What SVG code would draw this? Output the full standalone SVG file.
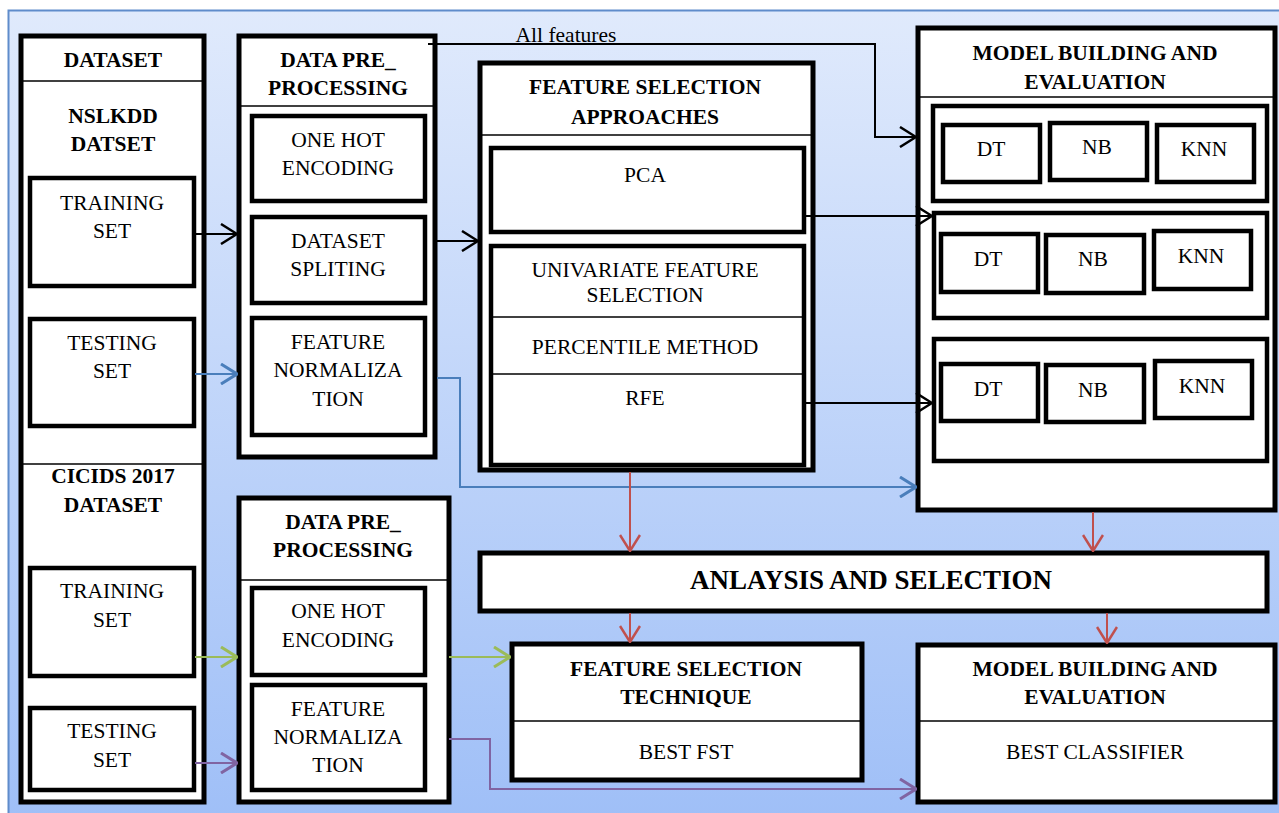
<svg xmlns="http://www.w3.org/2000/svg" width="1279" height="813" viewBox="0 0 1279 813">
<defs>
<linearGradient id="bg" x1="0" y1="0" x2="0" y2="1">
<stop offset="0" stop-color="#e0eafc"/>
<stop offset="1" stop-color="#9fbff7"/>
</linearGradient>
<marker id="ak" viewBox="0 0 18 22" refX="17" refY="11" markerWidth="18" markerHeight="22" markerUnits="userSpaceOnUse" orient="auto"><path d="M1,1 L17,11 L1,21" fill="none" stroke="#000" stroke-width="2.5"/></marker>
<marker id="ab" viewBox="0 0 18 22" refX="17" refY="11" markerWidth="18" markerHeight="22" markerUnits="userSpaceOnUse" orient="auto"><path d="M1,1 L17,11 L1,21" fill="none" stroke="#4a7ebb" stroke-width="3"/></marker>
<marker id="ag" viewBox="0 0 18 22" refX="17" refY="11" markerWidth="18" markerHeight="22" markerUnits="userSpaceOnUse" orient="auto"><path d="M1,1 L17,11 L1,21" fill="none" stroke="#9bbb59" stroke-width="3"/></marker>
<marker id="ap" viewBox="0 0 18 22" refX="17" refY="11" markerWidth="18" markerHeight="22" markerUnits="userSpaceOnUse" orient="auto"><path d="M1,1 L17,11 L1,21" fill="none" stroke="#8064a2" stroke-width="3"/></marker>
<marker id="ar" viewBox="0 0 18 22" refX="17" refY="11" markerWidth="18" markerHeight="22" markerUnits="userSpaceOnUse" orient="auto"><path d="M1,1 L17,11 L1,21" fill="none" stroke="#c0504d" stroke-width="2.5"/></marker>
</defs>
<style>
.o{fill:#fff;stroke:#000;stroke-width:5}
.i{fill:#fff;stroke:#000;stroke-width:4.5}
.d{stroke:#000;stroke-width:1.5;fill:none}
text{font-family:"Liberation Serif","Times New Roman",serif;font-size:21.5px;fill:#000;text-anchor:middle;dominant-baseline:central}
.b{font-weight:bold}
.c{fill:none;stroke-width:2}
</style>
<rect x="0" y="0" width="1279" height="813" fill="#fff"/>
<rect x="8.5" y="10.5" width="1280" height="810" fill="url(#bg)" stroke="#5f8ccb" stroke-width="2"/>

<g id="dataset">
<rect class="o" x="21" y="36" width="183" height="766"/>
<line class="d" x1="21" y1="81" x2="204" y2="81"/>
<line class="d" x1="21" y1="464" x2="204" y2="464"/>
<text class="b" x="113" y="60">DATASET</text>
<text class="b" x="113" y="116">NSLKDD</text>
<text class="b" x="113" y="144">DATSET</text>
<text class="b" x="113" y="476">CICIDS 2017</text>
<text class="b" x="113" y="505">DATASET</text>
</g>
<g id="training1"><rect class="i" x="30" y="178" width="164" height="108"/><text x="112" y="203">TRAINING</text><text x="112" y="231">SET</text></g>
<g id="testing1"><rect class="i" x="30" y="319" width="164" height="107"/><text x="112" y="343">TESTING</text><text x="112" y="371">SET</text></g>
<g id="training2"><rect class="i" x="30" y="568" width="164" height="108"/><text x="112" y="591">TRAINING</text><text x="112" y="620">SET</text></g>
<g id="testing2"><rect class="i" x="30" y="708" width="164" height="82"/><text x="112" y="731">TESTING</text><text x="112" y="760">SET</text></g>

<g id="dpp1">
<rect class="o" x="239" y="36" width="196" height="421"/>
<line class="d" x1="239" y1="106" x2="435" y2="106"/>
<text class="b" x="338" y="60">DATA PRE_</text>
<text class="b" x="338" y="88">PROCESSING</text>
</g>
<g id="onehot1"><rect class="i" x="252" y="116" width="173" height="85"/><text x="338" y="140">ONE HOT</text><text x="338" y="168">ENCODING</text></g>
<g id="split1"><rect class="i" x="252" y="217" width="173" height="86"/><text x="338" y="241">DATASET</text><text x="338" y="269">SPLITING</text></g>
<g id="norm1"><rect class="i" x="252" y="318" width="173" height="117"/><text x="338" y="342">FEATURE</text><text x="338" y="370">NORMALIZA</text><text x="338" y="399">TION</text></g>

<g id="dpp2">
<rect class="o" x="239" y="498" width="210" height="304"/>
<line class="d" x1="239" y1="580" x2="449" y2="580"/>
<text class="b" x="343" y="522">DATA PRE_</text>
<text class="b" x="343" y="550">PROCESSING</text>
</g>
<g id="onehot2"><rect class="i" x="252" y="588" width="173" height="87"/><text x="338" y="611">ONE HOT</text><text x="338" y="640">ENCODING</text></g>
<g id="norm2"><rect class="i" x="252" y="685" width="173" height="105"/><text x="338" y="709">FEATURE</text><text x="338" y="737">NORMALIZA</text><text x="338" y="765">TION</text></g>

<g id="fsa">
<rect class="o" x="480" y="63" width="333" height="407"/>
<line class="d" x1="480" y1="135" x2="813" y2="135"/>
<text class="b" x="645" y="87">FEATURE SELECTION</text>
<text class="b" x="645" y="117">APPROACHES</text>
</g>
<g id="pca"><rect class="i" x="491" y="148" width="313" height="84"/><text x="645" y="175">PCA</text></g>
<g id="univariate">
<rect class="i" x="491" y="246" width="313" height="219"/>
<line class="d" x1="491" y1="317" x2="804" y2="317"/>
<line class="d" x1="491" y1="374" x2="804" y2="374"/>
<text x="645" y="270">UNIVARIATE FEATURE</text>
<text x="645" y="295">SELECTION</text>
<text x="645" y="347">PERCENTILE METHOD</text>
<text x="645" y="398">RFE</text>
</g>

<g id="model1">
<rect class="o" x="918" y="28" width="357" height="482"/>
<line class="d" x1="918" y1="97" x2="1275" y2="97"/>
<text class="b" x="1095" y="53">MODEL BUILDING AND</text>
<text class="b" x="1095" y="82">EVALUATION</text>
</g>
<g id="set1">
<rect class="i" x="933" y="106" width="334" height="95"/>
<rect class="i" x="943" y="125" width="97" height="57"/><text x="991" y="149">DT</text>
<rect class="i" x="1050" y="123" width="97" height="57"/><text x="1097" y="147">NB</text>
<rect class="i" x="1157" y="125" width="97" height="57"/><text x="1204" y="149">KNN</text>
</g>
<g id="set2">
<rect class="i" x="934" y="213" width="333" height="105"/>
<rect class="i" x="941" y="234" width="97" height="58"/><text x="988" y="259">DT</text>
<rect class="i" x="1046" y="235" width="98" height="58"/><text x="1093" y="259">NB</text>
<rect class="i" x="1154" y="231" width="97" height="58"/><text x="1201" y="256">KNN</text>
</g>
<g id="set3">
<rect class="i" x="934" y="339" width="333" height="122"/>
<rect class="i" x="941" y="364" width="97" height="57"/><text x="988" y="389">DT</text>
<rect class="i" x="1046" y="365" width="98" height="57"/><text x="1093" y="390">NB</text>
<rect class="i" x="1155" y="361" width="97" height="57"/><text x="1202" y="386">KNN</text>
</g>

<g id="analysis"><rect class="o" x="480" y="553" width="787" height="58"/><text class="b" x="871" y="580" style="font-size:27px">ANLAYSIS AND SELECTION</text></g>
<g id="fst">
<rect class="o" x="512" y="644" width="350" height="136"/>
<line class="d" x1="512" y1="721" x2="862" y2="721"/>
<text class="b" x="686" y="669">FEATURE SELECTION</text>
<text class="b" x="686" y="697">TECHNIQUE</text>
<text x="686" y="752">BEST FST</text>
</g>
<g id="model2">
<rect class="o" x="918" y="645" width="357" height="157"/>
<line class="d" x1="918" y1="721" x2="1275" y2="721"/>
<text class="b" x="1095" y="669">MODEL BUILDING AND</text>
<text class="b" x="1095" y="697">EVALUATION</text>
<text x="1095" y="752">BEST CLASSIFIER</text>
</g>

<g id="connectors">
<path class="c" stroke="#000" d="M195,234 H237" marker-end="url(#ak)"/>
<path class="c" stroke="#000" d="M437,241 H478" marker-end="url(#ak)"/>
<path class="c" stroke="#000" d="M428,44 H875 V137 H916" marker-end="url(#ak)"/>
<path class="c" stroke="#000" d="M806,216 H932" marker-end="url(#ak)"/>
<path class="c" stroke="#000" d="M806,403 H932" marker-end="url(#ak)"/>
<path class="c" stroke="#4a7ebb" stroke-width="2.5" d="M195,374 H237" marker-end="url(#ab)"/>
<path class="c" stroke="#4a7ebb" stroke-width="2.5" d="M437,378 H460 V487 H916" marker-end="url(#ab)"/>
<path class="c" stroke="#9bbb59" stroke-width="2.5" d="M195,657 H237" marker-end="url(#ag)"/>
<path class="c" stroke="#9bbb59" stroke-width="2.5" d="M449,657 H510" marker-end="url(#ag)"/>
<path class="c" stroke="#8064a2" stroke-width="2.5" d="M195,763 H237" marker-end="url(#ap)"/>
<path class="c" stroke="#8064a2" stroke-width="2.5" d="M449,739 H490 V789 H916" marker-end="url(#ap)"/>
<path class="c" stroke="#c0504d" d="M630,472 V551" marker-end="url(#ar)"/>
<path class="c" stroke="#c0504d" d="M1093,512 V551" marker-end="url(#ar)"/>
<path class="c" stroke="#c0504d" d="M630,613 V642" marker-end="url(#ar)"/>
<path class="c" stroke="#c0504d" d="M1107,613 V643" marker-end="url(#ar)"/>
<text x="566" y="35">All features</text>
</g>
</svg>
